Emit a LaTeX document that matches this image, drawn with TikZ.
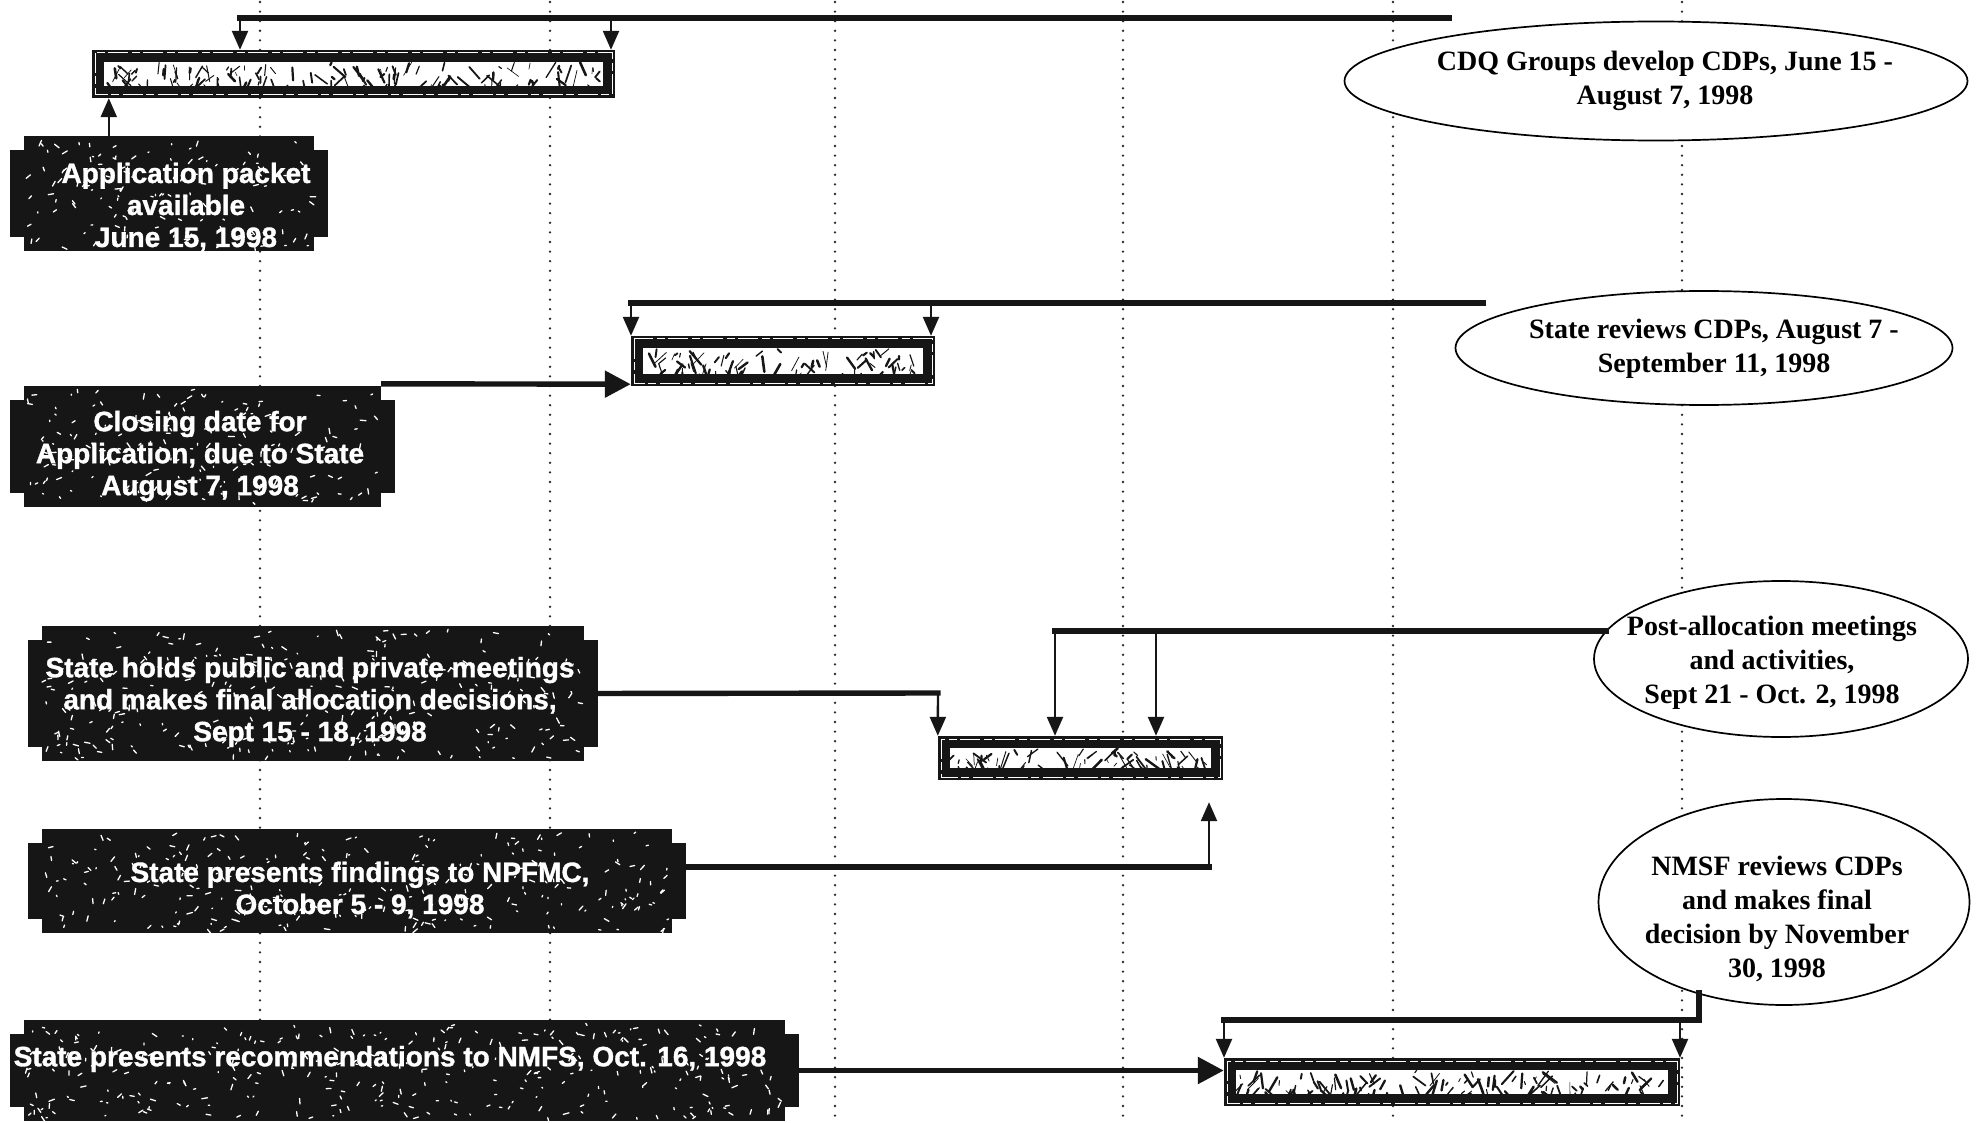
\documentclass[tikz,border=0pt]{standalone}
\usepackage{fontspec}
\setmainfont{Liberation Serif}
\newfontfamily\plaquefont[BoldFeatures={FakeBold=1.2}]{Liberation Sans}
\usetikzlibrary{arrows.meta,shapes.geometric,calc}
\definecolor{ink}{HTML}{161616}
\definecolor{dotc}{HTML}{2A2A2A}
\tikzset{
  plaque/.style={rectangle, fill=ink, inner sep=0pt},
  ptext/.style={text=white, font=\plaquefont\bfseries\fontsize{28}{32}\selectfont, align=center, inner sep=0pt},
  oval/.style={ellipse, draw=black, line width=1.7pt, fill=white, inner sep=0pt},
  otext/.style={text=black, font=\bfseries\fontsize{28}{34}\selectfont, align=center, inner sep=0pt},
  barbox/.style={rectangle, fill=ink, inner sep=0pt},
  heavy/.style={draw=ink, line width=5.4pt, line cap=rect},
  tip/.style={draw=ink, line width=2.4pt, -{Triangle[length=19pt,width=16pt]}},
  bigtip/.style={draw=ink, line width=5.4pt, -{Triangle[length=26pt,width=26pt]}},
  guide/.style={draw=dotc, line width=2.6pt, dash pattern=on 0pt off 9.6pt, line cap=round},
}
\newcommand\mkplaque[6]{%
  \fill[ink] (#2-14,#3+14) rectangle (#4+14,#5-14);
  \node[plaque, minimum width={(#4-#2)*1pt}, minimum height={(#5-#3)*1pt}] (#1) at ({(#2+#4)/2},{(#3+#5)/2}) {};
  \pgfmathsetseed{#6}%
  \pgfmathtruncatemacro\nsp{((#4-#2)/25)*((#5-#3)/10)}%
  \foreach \k in {1,...,\nsp}{%
    \pgfmathsetmacro\spx{#2+3+rnd*(#4-#2-6)}%
    \pgfmathsetmacro\spy{#3+3+rnd*(#5-#3-6)}%
    \pgfmathsetmacro\spa{rnd*180}%
    \pgfmathsetmacro\spl{1+rnd*5}%
    \draw[white, line width=1.3pt, line cap=round] (\spx,\spy) -- ++(\spa:\spl);%
  }%
}
\newcommand\mkbar[6]{%
  \node[barbox, minimum width={(#4-#2)*1pt}, minimum height={(#5-#3)*1pt}] (#1) at ({(#2+#4)/2},{(#3+#5)/2}) {};
  \fill[white] (#2+12,#3+12) rectangle (#4-12,#5-12);
  \draw[white, line width=1pt, dash pattern=on 20pt off 3pt on 8pt off 4pt] (#2+3,#3+3) rectangle (#4-3,#5-3);
  \pgfmathsetseed{#6}%
  \pgfmathtruncatemacro\nst{(#4-#2)/4}%
  \begin{scope}
  \clip (#2+12,#3+12) rectangle (#4-12,#5-12);
  \foreach \k in {1,...,\nst}{%
    \pgfmathsetmacro\bqx{#2+15+rnd*(#4-#2-30)}%
    \pgfmathsetmacro\bqy{#3+12+rnd*(#5-#3-24)}%
    \pgfmathsetmacro\bql{3+rnd*16}%
    \pgfmathsetmacro\bqa{35+rnd*110}%
    \pgfmathsetmacro\bqw{0.6+rnd*2}%
    \draw[ink, line width=\bqw pt, line cap=round] (\bqx,\bqy) -- ++(\bqa:\bql);%
  }%
  \end{scope}
}
\begin{document}
\begin{tikzpicture}[x=1pt,y=-1pt]
\fill[white] (0,0) rectangle (1979,1123);
\useasboundingbox (0,0) rectangle (1979,1123);
\foreach \gx in {260,550,835,1123,1393,1682} \draw[guide] (\gx,2) -- (\gx,1123);

% bars
\mkbar{bar1}{92}{50}{615}{98}{11}
\mkbar{bar2}{631}{336}{935}{386}{12}
\mkbar{bar3}{938}{736}{1223}{780}{13}
\mkbar{bar4}{1224}{1058}{1680}{1106}{14}

% plaques
\mkplaque{b1}{24}{136}{314}{251}{21}
\node[ptext] (b1t) at (186,207) {Application packet\\available\\June 15, 1998};
\mkplaque{b2}{24}{386}{381}{507}{22}
\node[ptext] (b2t) at (200,456) {Closing date for\\Application, due to State\\August 7, 1998};
\mkplaque{b3}{42}{626}{584}{761}{23}
\node[ptext] (b3t) at (310,702) {State holds public and private meetings\\and makes final allocation decisions,\\Sept 15 - 18, 1998};
\mkplaque{b4}{42}{829}{672}{933}{24}
\node[ptext] (b4t) at (360,890) {State presents findings to NPFMC,\\October 5 - 9, 1998};
\mkplaque{b5}{24}{1020}{785}{1121}{25}
\node[ptext] (b5t) at (390,1059) {State presents recommendations to NMFS, Oct. 16, 1998};

% ellipses
\node[oval, minimum width=623pt, minimum height=119pt] (cdq) at (1656,81) {};
\node[otext] (cdqt) at (1665,81) {CDQ Groups develop CDPs, June 15 -\\August 7, 1998};
\node[oval, minimum width=497pt, minimum height=114pt] (rev) at (1704,348) {};
\node[otext] (revt) at (1714,349) {State reviews CDPs, August 7 -\\September 11, 1998};
\node[oval, minimum width=374pt, minimum height=156pt] (post) at (1781,659) {};
\node[otext] (postt) at (1772,663) {Post-allocation meetings\\and activities,\\Sept 21 - Oct. 2, 1998};
\node[oval, minimum width=371pt, minimum height=206pt] (nmsf) at (1784,902) {};
\node[otext] (nmsft) at (1777,919) {NMSF reviews CDPs\\and makes final\\decision by November\\30, 1998};

% connectors 1
\coordinate (t1) at (1449,18);
\coordinate (t1a) at (240,18);
\coordinate (t1b) at (611,18);
\draw[heavy] (t1) -- (t1a);
\draw[tip] (t1a) -- (t1a |- bar1.north);
\draw[tip] (t1b) -- (t1b |- bar1.north);
\coordinate (s1) at ($(b1.north west)+(85,0)$);
\draw[tip] (s1) -- (s1 |- bar1.south);

% connectors 2
\coordinate (t2) at (1483,303);
\coordinate (t2a) at (631,303);
\coordinate (t2b) at (931,303);
\draw[heavy] (t2) -- (t2a);
\draw[tip] (t2a) -- (t2a |- bar2.north);
\draw[tip] (t2b) -- (t2b |- bar2.north);
\draw[bigtip] ([yshift=2pt]b2.north east) -- ([yshift=2pt]bar2.south west);

% connectors 3
\coordinate (t3) at (1606,631);
\coordinate (t3a) at (1055,631);
\coordinate (t3b) at (1156,631);
\draw[heavy] (t3) -- (t3a);
\draw[tip] (t3a) -- (t3a |- bar3.north);
\draw[tip] (t3b) -- (t3b |- bar3.north);
\coordinate (t4) at (938,693);
\draw[heavy] (b3.east) -- (t4);
\draw[tip] (t4) -- (bar3.north west);
\coordinate (t5) at (1209,867);
\draw[heavy] (b4.east |- t5) -- (t5);
\draw[tip, shorten >=22pt] (t5) -- (t5 |- bar3.south);

% connectors 4
\coordinate (t6) at (1699,993);
\coordinate (t6b) at (1699,1020);
\coordinate (t6a) at (1224,1020);
\coordinate (t6c) at (1680,1020);
\draw[heavy] (t6) -- (t6b) -- (t6a);
\draw[tip] (t6a) -- (t6a |- bar4.north);
\draw[tip] (t6c) -- (t6c |- bar4.north);
\draw[bigtip] (b5.east) -- (b5.east -| bar4.west);
\end{tikzpicture}
\end{document}
